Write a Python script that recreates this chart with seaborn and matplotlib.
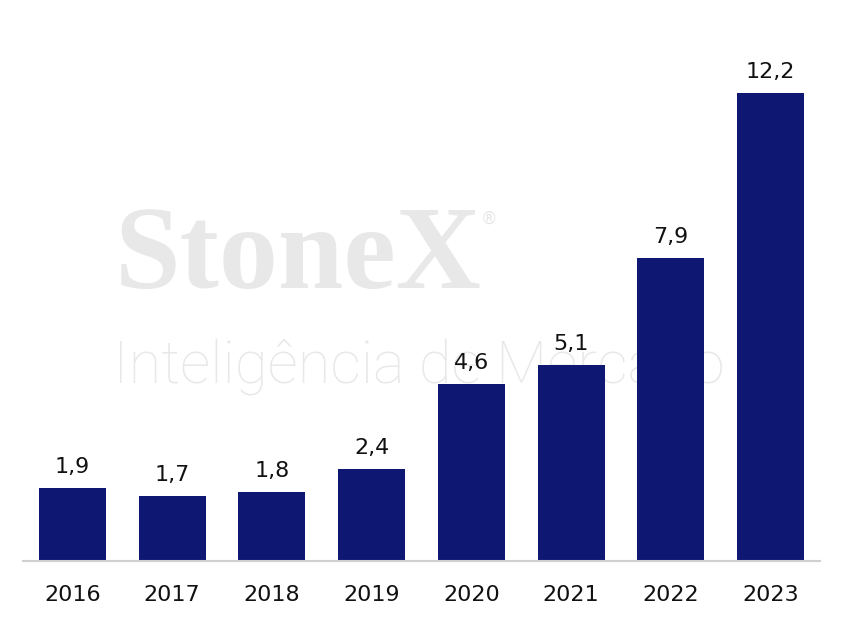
import pandas as pd
import matplotlib
matplotlib.use('Agg')
import matplotlib.pyplot as plt
import seaborn as sns

# Data
years = ['2016', '2017', '2018', '2019', '2020', '2021', '2022', '2023']
values = [1.9, 1.7, 1.8, 2.4, 4.6, 5.1, 7.9, 12.2]

df = pd.DataFrame({'ano': years, 'valor': values})

sns.set_style('white')
plt.rcParams['font.family'] = ['DejaVu Sans']

fig = plt.figure(figsize=(8.43, 6.24), dpi=100)
ax = fig.add_axes([0.0267, 0.101, 0.9466, 0.835])
ax.set_facecolor('none')

# Watermark behind the bars
fig.text(115 / 843, 1 - 288 / 624, 'StoneX', family='Liberation Serif', weight='bold',
         fontsize=85, color='#e8e8e8', zorder=-1)
fig.text(481 / 843, 1 - 224 / 624, '®', fontsize=12, color='#e6e6e6', zorder=-1)
fig.text(113 / 843, 1 - 383 / 624, 'Inteligência de Mercado', family='Roboto', weight='light',
         fontsize=43, color='#e8e8e8', zorder=-1)

sns.barplot(data=df, x='ano', y='valor', color='#0e1873', saturation=1, width=0.67,
            linewidth=0, ax=ax)

ax.bar_label(ax.containers[0], labels=[f'{v:.1f}'.replace('.', ',') for v in values],
             padding=8, fontsize=16, color='#111111')

ax.set_xlim(-0.5, 7.5)
ax.set_ylim(0, 13.58)
ax.set_xlabel('')
ax.set_ylabel('')
ax.set_yticks([])
ax.tick_params(axis='x', length=0, pad=17, labelsize=16, labelcolor='#111111')

for side in ['top', 'right', 'left']:
    ax.spines[side].set_visible(False)
ax.spines['bottom'].set_color('#d0d0d0')
ax.spines['bottom'].set_linewidth(1.5)

fig.savefig('out.png', dpi=100)
